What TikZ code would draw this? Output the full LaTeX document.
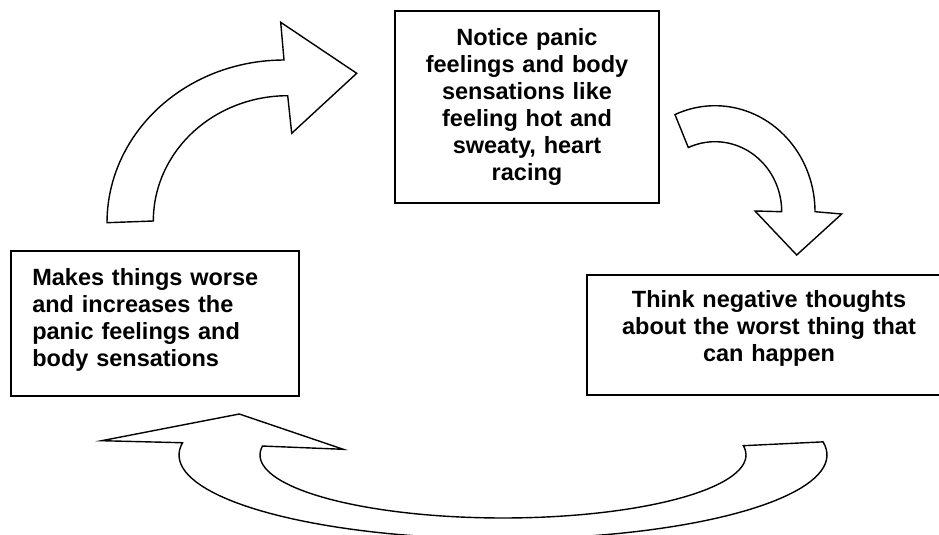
\documentclass[tikz,border=0pt]{standalone}
\usepackage{fontspec}
\setmainfont{Liberation Sans}
\begin{document}
\begin{tikzpicture}[x=1pt,y=-1pt]
\tikzset{
  box/.style={draw, line width=1.6pt, rectangle, inner sep=0pt,
    font=\bfseries\fontsize{23.5}{27}\selectfont},
  blockarrow/.style={draw, line width=1.4pt, fill=white, line join=miter}
}
\useasboundingbox (0,0) rectangle (939,535);

% curved block arrows
\draw[blockarrow] plot[domain=180:270, samples=50] ({284+177*cos(\x)},{222.7+162.7*sin(\x)})
  -- (280.7,22.3) -- (356.7,73.3) -- (291.7,133.3)
  -- plot[domain=270:180, samples=50] ({287.7+134.4*cos(\x)},{221+125.3*sin(\x)}) -- cycle;

\draw[blockarrow] plot[domain=246.4:360, samples=50] ({715+100*cos(\x)},{211.7+106*sin(\x)})
  -- (841.7,214) -- (796.7,255) -- (755,211)
  -- plot[domain=360:246.4, samples=50] ({715+66.7*cos(\x)},{211.7+70*sin(\x)}) -- cycle;

\draw[blockarrow] (101.7,440.7) -- (239.3,414) -- (343.3,449.3) -- (261.7,446)
  -- plot[domain=188.2:-8.5, samples=80] ({503+243*cos(\x)},{455+63*sin(\x)})
  -- plot[domain=-9:188.4, samples=80] ({503+324*cos(\x)},{455+84*sin(\x)}) -- cycle;

% boxes
\node[box, minimum width=264pt, minimum height=192pt, text width=240pt, align=center] (notice) at (527,107)
  {Notice panic\\feelings and body\\sensations like\\feeling hot and\\sweaty, heart\\racing};

\node[box, minimum width=288pt, minimum height=145pt, text width=245.4pt, align=left] (worse) at (155,323.5)
  {Makes things worse\\and increases the\\panic feelings and\\body sensations\rule[-12.9pt]{0pt}{0pt}};

\node[box, minimum width=364pt, minimum height=120pt, text width=330pt, align=center] (think) at (769,335)
  {Think negative thoughts\\about the worst thing that\\can happen\rule[-17.7pt]{0pt}{0pt}};
\end{tikzpicture}
\end{document}
